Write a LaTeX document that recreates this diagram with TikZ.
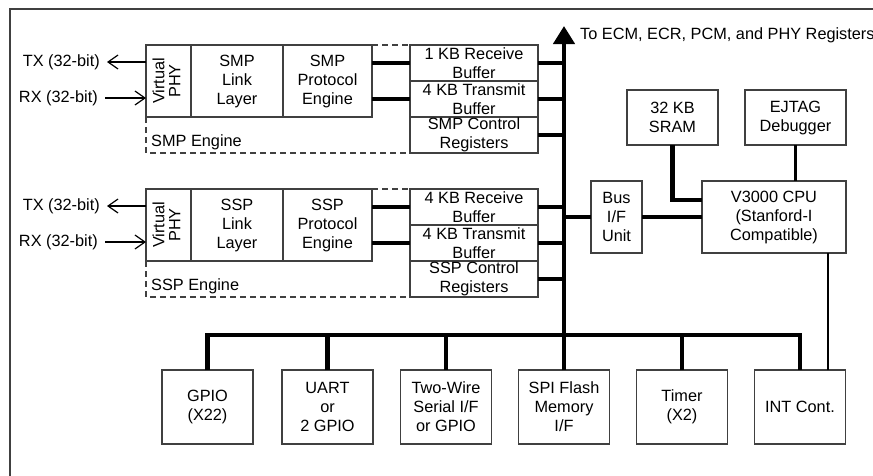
\documentclass[tikz,border=0pt]{standalone}
\usepackage{fontspec}
\setmainfont{Liberation Sans}
\usetikzlibrary{arrows.meta,positioning}

\begin{document}
\begin{tikzpicture}[x=1pt, y=-1pt, >={Straight Barb[length=10pt,width=14pt]}, font=\fontsize{16.3}{19}\selectfont,
	blk/.style={draw=black!75, line width=1.3pt, inner sep=0pt, outer sep=0pt, align=center},
	row/.style={blk, minimum height=72pt},
	buf/.style={blk, minimum width=128pt, minimum height=36pt},
	io/.style={blk, minimum width=91pt, minimum height=74pt},
	bus/.style={line width=4.3pt},
	wire/.style={line width=1.2pt},
	engine/.style={draw=black!75, line width=1.3pt, dash pattern=on 6pt off 4pt},
	lbl/.style={inner sep=2pt}]
	\useasboundingbox (0,0) rectangle (873,475);
	\draw[black!75, line width=1.6pt] (10,480) -- (10,9) -- (880,9);

	% SMP engine
	\node[row, minimum width=45pt]				(vphy1) at (168.5,81)	{\rotatebox{90}{\begin{tabular}{@{}c@{}}Virtual\\[-3pt]PHY\end{tabular}}};
	\node[row, minimum width=92pt, right=0pt of vphy1]	(link1)		{SMP\\Link\\Layer};
	\node[row, minimum width=89pt, right=0pt of link1]	(prot1)		{SMP\\Protocol\\Engine};
	\node[buf]						(rx1) at (474,63)	{1 KB Receive\\Buffer};
	\node[buf, below=0pt of rx1]				(tx1)		{4 KB Transmit\\Buffer};
	\node[buf, below=0pt of tx1]				(reg1)		{SMP Control\\Registers};
	\node[lbl, anchor=west]					(smpeng) at (149,142)	{SMP Engine};
	\node[lbl, anchor=east]					(tx1l) at (102,62)	{TX (32-bit)};
	\node[lbl, anchor=east]					(rx1l) at (100,98)	{RX (32-bit)};

	% SSP engine
	\node[row, minimum width=45pt]				(vphy2) at (168.5,225)	{\rotatebox{90}{\begin{tabular}{@{}c@{}}Virtual\\[-3pt]PHY\end{tabular}}};
	\node[row, minimum width=92pt, right=0pt of vphy2]	(link2)		{SSP\\Link\\Layer};
	\node[row, minimum width=89pt, right=0pt of link2]	(prot2)		{SSP\\Protocol\\Engine};
	\node[buf]						(rx2) at (474,207)	{4 KB Receive\\Buffer};
	\node[buf, below=0pt of rx2]				(tx2)		{4 KB Transmit\\Buffer};
	\node[buf, below=0pt of tx2]				(reg2)		{SSP Control\\Registers};
	\node[lbl, anchor=west]					(sspeng) at (149,286)	{SSP Engine};
	\node[lbl, anchor=east]					(tx2l) at (102,206)	{TX (32-bit)};
	\node[lbl, anchor=east]					(rx2l) at (100,242)	{RX (32-bit)};

	% CPU side
	\coordinate						(bustop) at (564,26);
	\node[lbl, anchor=west]					(regs) at (578,35)	{To ECM, ECR, PCM, and PHY Registers};
	\node[blk, minimum width=51pt, minimum height=72pt]	(busif) at (616.5,217)	{Bus\\I/F\\Unit};
	\node[blk, minimum width=144pt, minimum height=72pt]	(cpu) at (774,217)	{V3000 CPU\\(Stanford-I\\Compatible)};
	\node[blk, minimum width=91pt, minimum height=55pt]	(sram) at (672.5,117.5)	{32 KB\\SRAM};
	\node[blk, minimum width=101pt, minimum height=55pt]	(ejtag) at (795.5,117.5)	{EJTAG\\Debugger};

	% peripherals
	\node[io]	(gpio) at (207.5,407)	{GPIO\\(X22)};
	\node[io]	(uart) at (327.5,407)	{UART\\or\\2 GPIO};
	\node[io]	(twi) at (446,407)	{Two-Wire\\Serial I/F\\or GPIO};
	\node[io]	(spi) at (564,407)	{SPI Flash\\Memory\\I/F};
	\node[io]	(timer) at (682,407)	{Timer\\(X2)};
	\node[io]	(intc) at (800,407)	{INT Cont.};
	\coordinate	(hbus) at (0,335);

	\draw[engine]	(vphy1.south west) |- (reg1.south west);
	\draw[engine]	(prot1.north east) -- (rx1.north west);
	\draw[engine]	(vphy2.south west) |- (reg2.south west);
	\draw[engine]	(prot2.north east) -- (rx2.north west);

	\draw[wire, ->, shorten >=5pt]	(vphy1.west |- tx1l)	--	(tx1l.east);
	\draw[wire, ->, shorten <=5pt]	(rx1l.east)		--	(vphy1.west |- rx1l);
	\draw[wire, ->, shorten >=5pt]	(vphy2.west |- tx2l)	--	(tx2l.east);
	\draw[wire, ->, shorten <=5pt]	(rx2l.east)		--	(vphy2.west |- rx2l);

	\draw[bus, -{Triangle[length=18pt,width=21pt]}]	(spi.north)	--	(bustop);
	\draw[bus]	(gpio.north)	|-	(intc.north |- hbus)	--	(intc.north);
	\path[bus]	(prot1.east |- rx1)	edge	(rx1.west)
			(prot1.east |- tx1)	edge	(tx1.west)
			(prot2.east |- rx2)	edge	(rx2.west)
			(prot2.east |- tx2)	edge	(tx2.west)
			(rx1.east)		edge	(rx1 -| bustop)
			(tx1.east)		edge	(tx1 -| bustop)
			(reg1.east)		edge	(reg1 -| bustop)
			(rx2.east)		edge	(rx2 -| bustop)
			(tx2.east)		edge	(tx2 -| bustop)
			(reg2.east)		edge	(reg2 -| bustop)
			(busif.west)		edge	(busif -| bustop)
			(busif.east)		edge	(cpu.west)
			(uart.north)		edge	(uart |- hbus)
			(twi.north)		edge	(twi |- hbus)
			(timer.north)		edge	(timer |- hbus);
	\draw[bus]	(sram.south)	|-	([yshift=17pt]cpu.west);
	\draw[line width=3.6pt]	(ejtag.south)	--	(ejtag.south |- cpu.north);
	\draw[wire]	([xshift=28pt]intc.north)	--	([xshift=28pt]intc.north |- cpu.south);
\end{tikzpicture}
\end{document}
